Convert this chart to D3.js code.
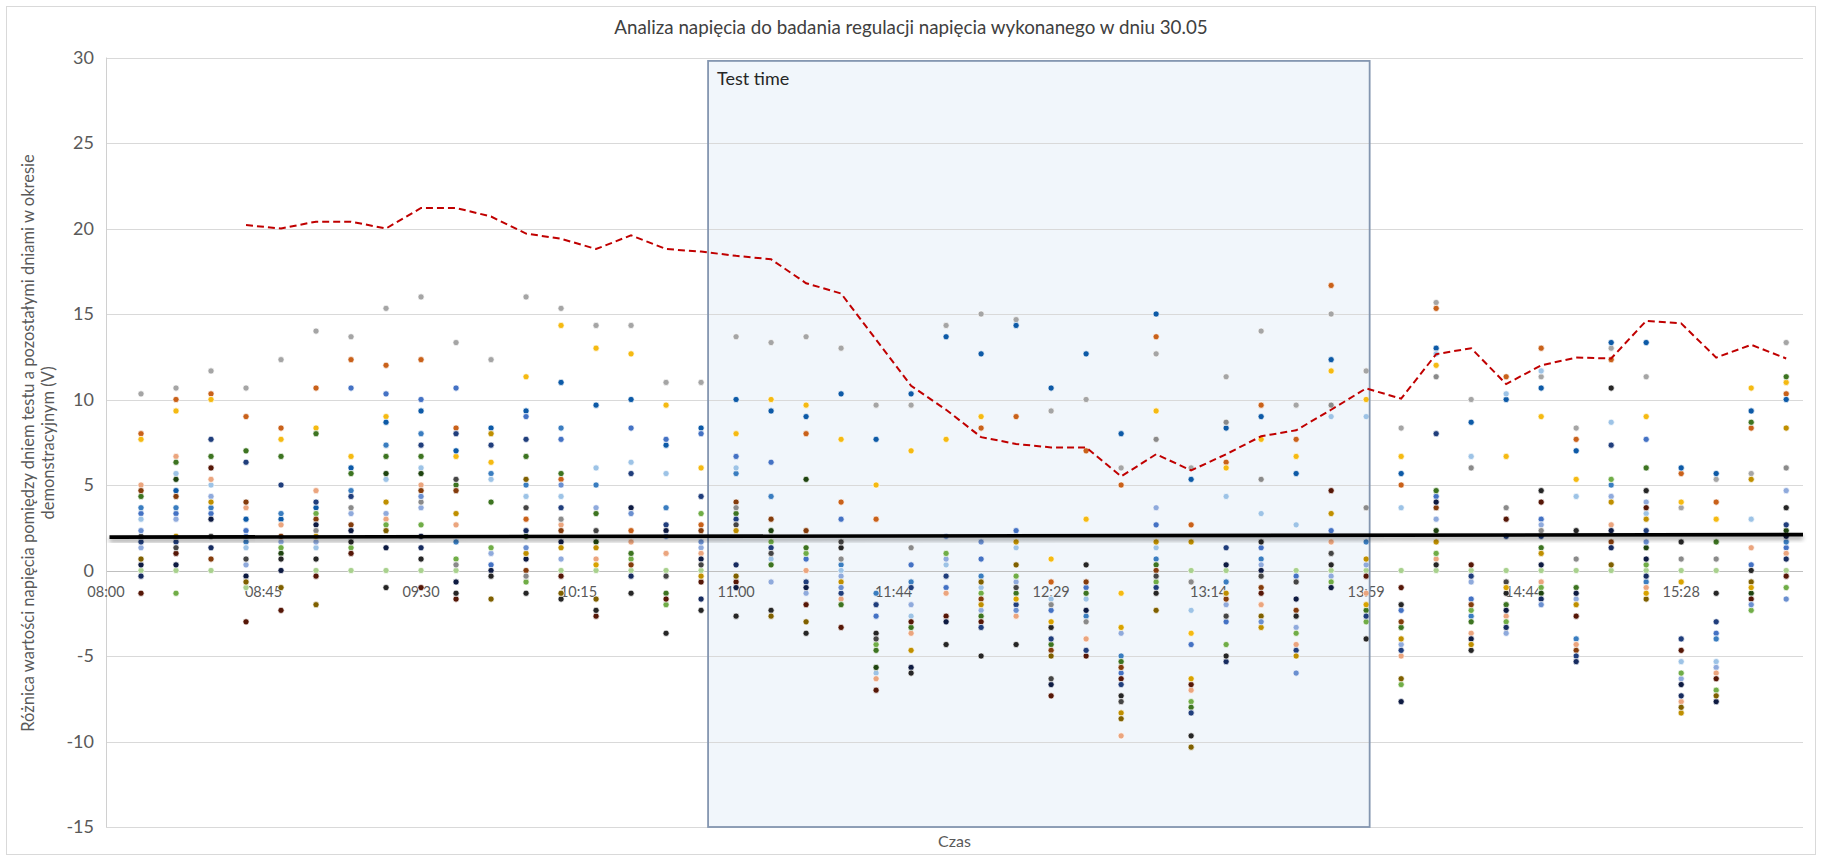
<!DOCTYPE html>
<html>
<head>
<meta charset="utf-8">
<script src="https://cdn.jsdelivr.net/npm/d3@7"></script>
<style>
  body { margin: 0; background: #ffffff; }
  svg { display: block; font-family: Lato, "Noto Sans", sans-serif; }
</style>
</head>
<body>
<svg id="chart" width="1822" height="861"></svg>
<script>
// ---- data -------------------------------------------------------------
const N = null;

// measurement times (10-minute steps)
const times = ["08:10","08:20","08:30","08:40","08:50","09:00","09:10","09:20","09:30","09:40",
               "09:50","10:00","10:10","10:20","10:30","10:40","10:50","11:00","11:10","11:20",
               "11:30","11:40","11:50","12:00","12:10","12:20","12:30","12:40","12:50","13:00",
               "13:10","13:20","13:30","13:40","13:50","14:00","14:10","14:20","14:30","14:40",
               "14:50","15:00","15:10","15:20","15:30","15:40","15:50","16:00"];

// axis
const xAxisRange = ["08:00", "16:04.8"];
const tickLabels = ["08:00","08:45","09:30","10:15","11:00","11:44","12:29","13:14","13:59","14:44","15:28"];
const yTicks = [30, 25, 20, 15, 10, 5, 0, -5, -10, -15];

// test window
const testWindow = ["10:52", "14:01"];
const testWindowTop = 29.8;

// reference line (mean difference)
const refTimes = ["08:01", "16:04.8"];
const refValues = [1.95, 2.10];

// upper limit (dashed)
const limitValues = [N,N,N,20.2,20.0,20.4,20.4,20.0,21.2,21.2,
                     20.7,19.7,19.4,18.8,19.6,18.8,18.65,18.4,18.2,16.8,
                     16.2,13.5,10.8,9.4,7.8,7.4,7.2,7.2,5.5,6.8,
                     5.85,6.8,7.85,8.2,9.4,10.65,10.05,12.65,13.0,10.9,
                     12.0,12.45,12.4,14.6,14.45,12.45,13.2,12.4];

// differences per day (V)
const gy = [10.33,10.67,11.67,10.67,12.33,14,13.67,15.33,16,13.33, 12.33,16,15.33,14.33,14.33,11,11,13.67,13.33,13.67, 13,9.67,9.67,14.33,15,14.67,9.33,10,6,12.67, 6,11.33,14,9.67,15,11.67,8.33,15.67,10,N, 11.33,8.33,13,11.33,3.67,5.33,5.67,13.33];
const or = [8,10,10.33,9,8.33,10.67,12.33,12,12.33,8.33, N,3,5.33,N,2.33,N,2.67,N,N,8, 4,3,N,N,8.33,9,-0.67,7,5,13.67, 2.67,6.33,9.67,7.67,16.67,N,5,15.33,N,11.33, 13,7.67,12.33,N,5.67,4,8.33,10.33];
const gd = [7.67,9.33,10,N,7.67,8.33,6.67,9,N,6.67, 6.33,11.33,14.33,13,12.67,9.67,6,8,10,9.67, 7.67,5,7,7.67,9,N,0.67,3,-1.33,9.33, -3.67,6,7.67,6.67,11.67,10,6.67,12,N,6.67, 9,5.33,N,9,4,3,10.67,11];
const bl = [N,4.67,N,3,3,3.67,6,8.67,9.33,7, 8.33,9.33,11,9.67,10,7.33,8.33,10,9.33,9, 10.33,7.67,10.33,13.67,12.67,14.33,10.67,12.67,8,15, 5.33,8.33,9,5.67,12.33,N,5.67,13,8.67,10, 10.67,7,13.33,13.33,6,5.67,9.33,10];
const mb = [3.33,3.33,3.33,2.33,N,N,10.67,10.33,10,10.67, 0.33,9,7.67,N,8.33,7.67,8,6.67,6.33,0.67, 3,-2.67,0.33,-1,0.67,2.33,-2.33,-1,-6,2.67, -4.33,-3,1.33,-0.33,2.33,N,-2.33,4.33,-1.67,N, 3,N,N,7.67,N,-3.67,0.33,1.33];
const sb = [3.67,3.67,3.67,1.67,3.33,N,4.67,7.33,8,1.67, 5.67,5,8.33,5,N,3.67,N,5.67,4.33,N, 0.33,-1.33,-0.67,N,-0.33,N,N,-2.67,-5,0.67, N,-0.67,0.67,N,N,1.67,N,N,-2.67,N, N,-4,5,-0.67,N,-4,N,1.67];
const lb = [3,5.67,5,1.33,N,1.33,N,5.33,6,N, 5.33,4.33,4.33,6,6.33,5.67,N,6,0.67,N, 0,-6,-2.67,0.33,-1,1.33,-1.67,-1.67,N,1.33, -2.33,4.33,3.33,2.67,9,9,3.67,12.67,6.67,10.33, 11.67,4.33,8.67,3.33,-5.33,-5.33,3,N];
const vb = [1.33,3,4.33,0.33,1.67,1.67,3.33,3.33,3.67,N, 1,N,0.67,3.67,N,N,1.33,N,-0.67,-1.33, -0.33,N,-2,0.67,-2.33,-0.67,N,N,-3.67,3.67, N,-2,0.33,-3.33,-0.33,0.33,-4.33,3,-0.67,-3.67, 2.67,-1.67,4.33,4,-6.33,-5.67,N,4.67];
const sa = [5,6.67,5.33,3.67,2.67,4.67,N,3,5,2.67, N,N,2.67,0.67,1.67,1,1,N,N,0, -1.67,-6.33,-3.67,-1.33,N,-2.67,N,-4,-9.67,N, -7,N,-2,-4.33,1.67,-1.33,-5,0.67,-3.67,-2.67, -0.67,-4.33,2.67,-1,-7.67,-6,1.33,1];
const lg = [0,0,0,-1,N,0,0,0,0,0, N,N,0,0,0,0,0,N,N,N, N,N,N,N,N,N,N,N,N,N, 0,0,N,0,0,0,0,0,0,0, 0,0,0,0,0,0,N,0];
const gr = [N,-1.33,N,N,1.33,3.33,1.33,2.67,2.67,0.67, 1.33,-0.67,N,N,0.67,-2,3.33,N,1.67,1, N,-4.33,N,1,-1.33,-0.33,N,N,N,-0.67, -7.67,-4.33,N,-3.67,-0.67,-3,-6.67,1,-2.33,-3, -1,N,5.33,0.33,-6,-7,-2.33,-1];
const dg = [4.33,6.33,6.67,7,6.67,8,5.67,6.67,6.67,5, 4,6.67,5.67,3.33,1,-1.33,N,3.33,0.33,1.33, -2,-4.67,-3.33,N,-2.67,-1.33,-4.33,-1.33,-5.33,0.33, -8,N,N,N,N,-2.33,-3.33,4.67,-3,-2, 1.33,-1,N,6,N,1.67,8.67,11.33];
const vg = [N,5.33,N,N,1,N,N,5.67,5.67,N, N,2,N,1.67,N,N,N,N,2.33,5.33, N,-5.67,N,N,N,N,N,N,N,N, N,N,N,N,N,N,N,2.33,N,N, -1.33,N,N,1.33,N,N,-1.33,2.33];
const mr = [4.67,4.33,0.67,4,2,3,2.67,N,4.67,4.67, N,0,2.33,N,0.33,N,2.33,4,3,2.33, N,N,N,N,-1.67,N,-4.67,-0.67,-5.67,0, N,-1.67,-1,-2.33,N,N,-3,3.67,-2,N, N,-4.67,1.67,N,N,N,N,N];
const dm = [-1.33,1,6,-3,-2.33,-0.33,1,N,-1,-1.67, N,N,-0.33,-2.67,N,-1.67,-0.67,-0.67,N,-2, -3.33,-7,-3,-2.67,-3,N,-7.33,-5,-6.33,N, -6.67,N,-1.33,N,4.67,-0.33,-1,N,0.33,3, 4,-2.67,N,3.67,-4.67,-6.33,-1.67,-0.33];
const nv = [1.67,1.67,7.67,6.33,5,4,4.33,N,7.33,8, 7.33,7.67,3.67,N,5.67,2.67,4.33,3,1.33,-0.67, -1.33,-2,-1,-0.33,-3.33,-2,-4,-4.67,-6.67,-1, -8.33,1.33,N,-4.67,N,-2.67,-4.67,8,-0.33,2, 2,-5,7.33,2.33,-4,-3,N,2.67];
const dn = [0.33,0.33,3,-0.33,0,2.67,2.33,1.33,2,-0.67, 0,0.67,1.67,N,3.67,2.33,0.67,-1,N,-1, N,N,-5.67,-3,N,N,-6.67,-2.33,N,N, N,0.33,0,-1.67,-1,N,-7.67,4,-4,-2.33, 0.33,-1.33,2.33,0.67,-6.67,-7.67,N,2];
const n2 = [-0.33,N,1.33,N,N,N,N,N,1.33,N, N,2.33,N,N,-0.33,N,-1.67,0.33,N,N, N,N,N,N,N,N,N,N,N,N, N,-5.33,N,N,N,N,N,N,N,-3.33, -1.67,-5.33,1.33,-0.33,-7.33,N,N,0.67];
const bk = [N,N,N,N,0.67,0.67,1.67,-1,0.67,-1.33, -0.33,-1.33,-1.67,-2.33,-1.33,-3.67,-2.33,-2.67,-2.33,-3.67, 1.33,-3.67,-6,-4.33,-5,-4.33,-3.33,0.33,-7.33,-1.33, -9.67,-5,1.67,-2.67,0.33,-4,-2,0.33,-4.67,-1.33, 4.67,2.33,10.67,4.67,1.67,-1.33,0,3.67];
const dy = [2,1.33,2,0.67,N,N,N,N,N,5.33, N,3.67,N,2.33,N,-0.33,0.33,2.67,1,N, 1.67,-4,N,N,N,-1,-6.33,N,-7.67,-0.33, N,-2.67,-0.33,-0.67,1,N,N,N,N,-0.67, N,N,N,N,N,N,N,N];
const mg = [N,N,N,N,N,2.33,3.67,N,4,0.33, N,-0.33,3,N,N,N,N,3.67,N,N, 0.67,N,1.33,N,N,N,-2,-3,N,7.67, -0.67,8.67,5.33,N,9.67,3.67,N,11.33,6,3.67, 2.33,0.67,N,N,0.67,0.67,N,6];
const tg = [N,2,4,N,N,2,N,4,N,3.33, 8,1,1.33,1.33,N,N,-0.33,2.33,N,N, -0.67,N,-4.67,N,-2,1.67,N,N,-8.33,1.67, 1.67,-1.33,-3.33,-5,3.33,0.67,-4,1.67,-4.33,N, 1,-2,4,3,-8.33,N,5.33,8.33];
const br = [0.67,N,N,-0.67,-1,-2,N,2.33,N,N, -1.67,5.33,-1.33,-1.67,N,N,N,-0.33,-2.67,-3, N,N,N,N,-0.67,0.33,-5,N,-8.67,-2.33, -10.33,N,-2.67,N,N,N,-6.33,N,N,N, N,N,0.33,-1.67,-8,-7.33,-0.67,N];
const g2 = [N,N,N,N,N,N,N,N,N,N, N,N,N,0.33,N,N,N,N,N,N, N,N,N,N,N,-1.67,-3,N,-3.33,N, -6.33,N,N,N,N,-2,N,N,N,-1, N,N,N,-1.33,-0.67,N,-1,N];
const v2 = [2.33,N,N,2,N,N,N,N,4.33,N, N,1.33,5,N,3.33,2,1.67,N,N,N, -1,N,N,2,1.67,-2.33,N,N,N,N, N,N,-3,-6,N,N,N,N,N,N, -2,N,N,1.67,N,N,-2,-1.67];

const series = [
  { values: lg, color: "#A9D18E" },
  { values: gy, color: "#A5A5A5" },
  { values: or, color: "#C9611A" },
  { values: gd, color: "#F5BA12" },
  { values: bl, color: "#0D5AA7" },
  { values: mb, color: "#4472C4" },
  { values: sb, color: "#3A7DC0" },
  { values: lb, color: "#9DC3E6" },
  { values: vb, color: "#8FAADC" },
  { values: sa, color: "#EBA57E" },
  { values: gr, color: "#70AD47" },
  { values: dg, color: "#3D7421" },
  { values: vg, color: "#1F4410" },
  { values: mr, color: "#843C0C" },
  { values: dm, color: "#561707" },
  { values: nv, color: "#203E7C" },
  { values: dn, color: "#0E1B42" },
  { values: n2, color: "#172C60" },
  { values: bk, color: "#262626" },
  { values: dy, color: "#454545" },
  { values: mg, color: "#8A8A8A" },
  { values: tg, color: "#BF8F00" },
  { values: br, color: "#7F6000" },
  { values: g2, color: "#D9A300" },
  { values: v2, color: "#6A8FD0" }
];

// ---- helpers ------------------------------------------------------------
const toMin = s => { const [h, m] = s.split(":").map(Number); return h * 60 + m; };

// ---- layout -------------------------------------------------------------
const W = 1822, H = 861;
const plot = { left: 106, right: 1803, top: 57.5, bottom: 827 };

const svg = d3.select("#chart");

const x = d3.scaleLinear()
  .domain(xAxisRange.map(toMin))
  .range([plot.left, plot.right]);
const y = d3.scaleLinear()
  .domain([-15, 30])
  .range([plot.bottom, plot.top]);

const defs = svg.append("defs");
const shadow = defs.append("filter").attr("id", "lineShadow")
  .attr("x", "-5%").attr("y", "-200%").attr("width", "110%").attr("height", "500%");
shadow.append("feDropShadow").attr("dx", 0).attr("dy", 3).attr("stdDeviation", 2.2)
  .attr("flood-color", "#000").attr("flood-opacity", 0.38);

// chart frame
svg.append("rect").attr("x", 6.5).attr("y", 6.5).attr("width", W - 13).attr("height", H - 13)
  .attr("fill", "#fff").attr("stroke", "#D9D9D9").attr("stroke-width", 1);

// title
svg.append("text").attr("x", 911).attr("y", 34).attr("text-anchor", "middle")
  .attr("font-size", 18.8).attr("fill", "#404040")
  .text("Analiza napięcia do badania regulacji napięcia wykonanego w dniu 30.05");

// test window background
const tx0 = x(toMin(testWindow[0])), tx1 = x(toMin(testWindow[1]));
svg.append("rect")
  .attr("x", tx0).attr("y", y(testWindowTop))
  .attr("width", tx1 - tx0).attr("height", y(-15) - y(testWindowTop))
  .attr("fill", "#F1F6FB");

// gridlines
svg.append("g").selectAll("line").data(yTicks).join("line")
  .attr("x1", plot.left).attr("x2", plot.right)
  .attr("y1", d => Math.round(y(d)) + 0.5).attr("y2", d => Math.round(y(d)) + 0.5)
  .attr("stroke", d => d === 0 ? "#BFBFBF" : "#D9D9D9").attr("stroke-width", 1.2);

// vertical axis line
svg.append("line").attr("x1", plot.left + 0.5).attr("x2", plot.left + 0.5)
  .attr("y1", plot.top).attr("y2", plot.bottom).attr("stroke", "#D0D0D0");

// y tick labels
svg.append("g").selectAll("text").data(yTicks).join("text")
  .attr("x", 94).attr("y", d => y(d)).attr("dy", "0.35em")
  .attr("text-anchor", "end").attr("font-size", 18).attr("fill", "#595959")
  .text(d => d);

// x tick labels (45-minute steps on the zero line)
const xTickVals = tickLabels.map((_, i) => toMin("08:00") + 45 * i);
svg.append("g").selectAll("text").data(xTickVals).join("text")
  .attr("x", d => x(d)).attr("y", y(0) + 21).attr("dy", "0.35em")
  .attr("text-anchor", "middle").attr("font-size", 14.5).attr("fill", "#595959")
  .text((d, i) => tickLabels[i]);

// axis titles
const yTitle = svg.append("text").attr("transform", "translate(34,443) rotate(-90)")
  .attr("text-anchor", "middle").attr("font-size", 16.5).attr("fill", "#595959");
yTitle.append("tspan").attr("x", 0).attr("dy", 0)
  .text("Różnica wartości napięcia pomiędzy dniem testu a pozostałymi dniami w okresie");
yTitle.append("tspan").attr("x", 0).attr("dy", 20).text("demonstracyjnym (V)");

svg.append("text").attr("x", (plot.left + plot.right) / 2).attr("y", 847)
  .attr("text-anchor", "middle").attr("font-size", 16).attr("fill", "#595959").text("Czas");

// scatter points
const tMin = times.map(toMin);
const dots = svg.append("g");
series.forEach(s => {
  const pts = s.values.map((v, i) => ({ t: tMin[i], v })).filter(d => d.v !== null);
  dots.append("g").selectAll("circle").data(pts).join("circle")
    .attr("cx", d => x(d.t)).attr("cy", d => y(d.v)).attr("r", 3.1)
    .attr("fill", s.color).attr("stroke", "#fff").attr("stroke-width", 0.7);
});

// test window frame and label
svg.append("rect")
  .attr("x", tx0).attr("y", y(testWindowTop))
  .attr("width", tx1 - tx0).attr("height", y(-15) - y(testWindowTop))
  .attr("fill", "none").attr("stroke", "#8496B0").attr("stroke-width", 1.8);
svg.append("text").attr("x", tx0 + 9).attr("y", y(testWindowTop) + 24)
  .attr("font-size", 18).attr("fill", "#262626").text("Test time");

// dashed limit line
const limitPts = limitValues.map((v, i) => ({ t: tMin[i], v }));
svg.append("path").datum(limitPts)
  .attr("d", d3.line().defined(d => d.v !== null).x(d => x(d.t)).y(d => y(d.v)))
  .attr("fill", "none").attr("stroke", "#C00000").attr("stroke-width", 2)
  .attr("stroke-dasharray", "7,4");

// reference level line
const refPts = refTimes.map((t, i) => ({ t: toMin(t), v: refValues[i] }));
svg.append("path").datum(refPts)
  .attr("d", d3.line().x(d => x(d.t)).y(d => y(d.v)))
  .attr("fill", "none").attr("stroke", "#000").attr("stroke-width", 3.6)
  .attr("filter", "url(#lineShadow)");
</script>
</body>
</html>
